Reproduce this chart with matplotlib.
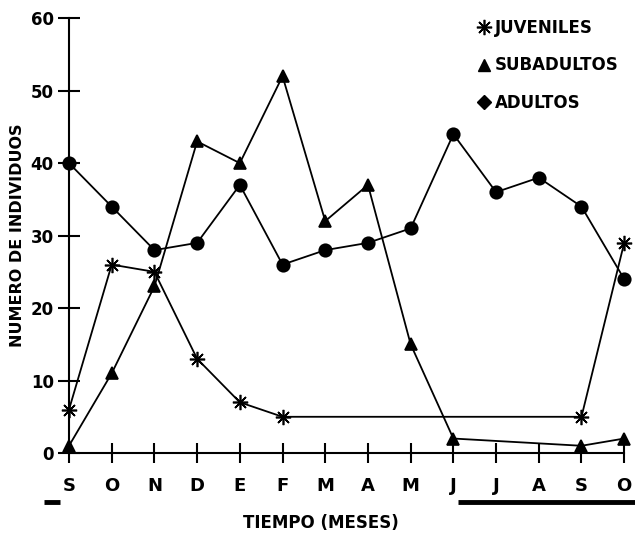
#!/usr/bin/env python

import numpy as np
import matplotlib
matplotlib.use('Agg')
import matplotlib.pyplot as plt
from matplotlib.lines import Line2D

plt.rcParams['font.family'] = ['DejaVu Sans']
plt.rcParams['font.weight'] = 'bold'

meses = ['S', 'O', 'N', 'D', 'E', 'F', 'M', 'A', 'M', 'J', 'J', 'A', 'S', 'O']
juveniles = [6, 26, 25, 13, 7, 5, None, None, None, None, None, None, 5, 29]
subadultos = [1, 11, 23, 43, 40, 52, 32, 37, 15, 2, None, None, 1, 2]
adultos = [40, 34, 28, 29, 37, 26, 28, 29, 31, 44, 36, 38, 34, 24]
# periodos marcados bajo el eje (inicio, fin en posicion de mes)
periodos = [(-0.58, -0.2), (9.1, 13.6)]

def valid(values):
    x = np.array([i for i, v in enumerate(values) if v is not None])
    y = np.array([v for v in values if v is not None])
    return x, y

fig = plt.figure(figsize=(6.35, 5.4), dpi=100)
ax = fig.add_axes([0.0616, 0.0537, 0.955, 0.926])

asterisk = (8, 2, 0)
for values, marker, ms in [(juveniles, asterisk, 11), (subadultos, '^', 8.5), (adultos, 'o', 9)]:
    x, y = valid(values)
    ax.plot(x, y, color='black', linewidth=1.3, marker=marker, markersize=ms,
            markeredgewidth=1.2, markerfacecolor='black', clip_on=False, zorder=3)

for start, end in periodos:
    ax.plot([start, end], [-6.8, -6.8], color='black', linewidth=3.5,
            solid_capstyle='butt', clip_on=False)

ax.set_xlim(-0.7, 13.5)
ax.set_ylim(-8, 61)
for side in ['top', 'right']:
    ax.spines[side].set_visible(False)
ax.spines['left'].set_position(('data', 0))
ax.spines['bottom'].set_position(('data', 0))
ax.spines['left'].set_bounds(0, 60)
ax.spines['bottom'].set_bounds(0, 13)
ax.spines['left'].set_linewidth(1.5)
ax.spines['bottom'].set_linewidth(1.5)

ax.set_xticks(range(len(meses)))
ax.set_xticklabels(meses, fontsize=13, fontweight='heavy')
ax.set_yticks(range(0, 61, 10))
ax.set_yticklabels([str(v) for v in range(0, 61, 10)], fontsize=12, fontweight='heavy')
ax.tick_params(axis='y', direction='inout', length=16, width=1.5, pad=3)
ax.tick_params(axis='x', direction='inout', length=14, width=1.5, pad=10)

fig.text(0.027, 0.565, 'NUMERO DE INDIVIDUOS', rotation=90, ha='center', va='center',
         fontsize=11.5, fontweight='heavy')
fig.text(0.505, 0.032, 'TIEMPO (MESES)', ha='center', va='center',
         fontsize=12, fontweight='heavy')

handles = [
    Line2D([], [], linestyle='none', marker=asterisk, markersize=11, color='black', markeredgewidth=1.2),
    Line2D([], [], linestyle='none', marker='^', markersize=8, color='black'),
    Line2D([], [], linestyle='none', marker='D', markersize=7, color='black'),
]
ax.legend(handles, ['JUVENILES', 'SUBADULTOS', 'ADULTOS'], loc='upper left',
          bbox_to_anchor=(0.728, 0.992), bbox_transform=fig.transFigure, frameon=False,
          handlelength=0.8, handletextpad=0.25, labelspacing=1.15,
          prop={'weight': 'heavy', 'size': 12})

fig.savefig('out.png', dpi=100)
